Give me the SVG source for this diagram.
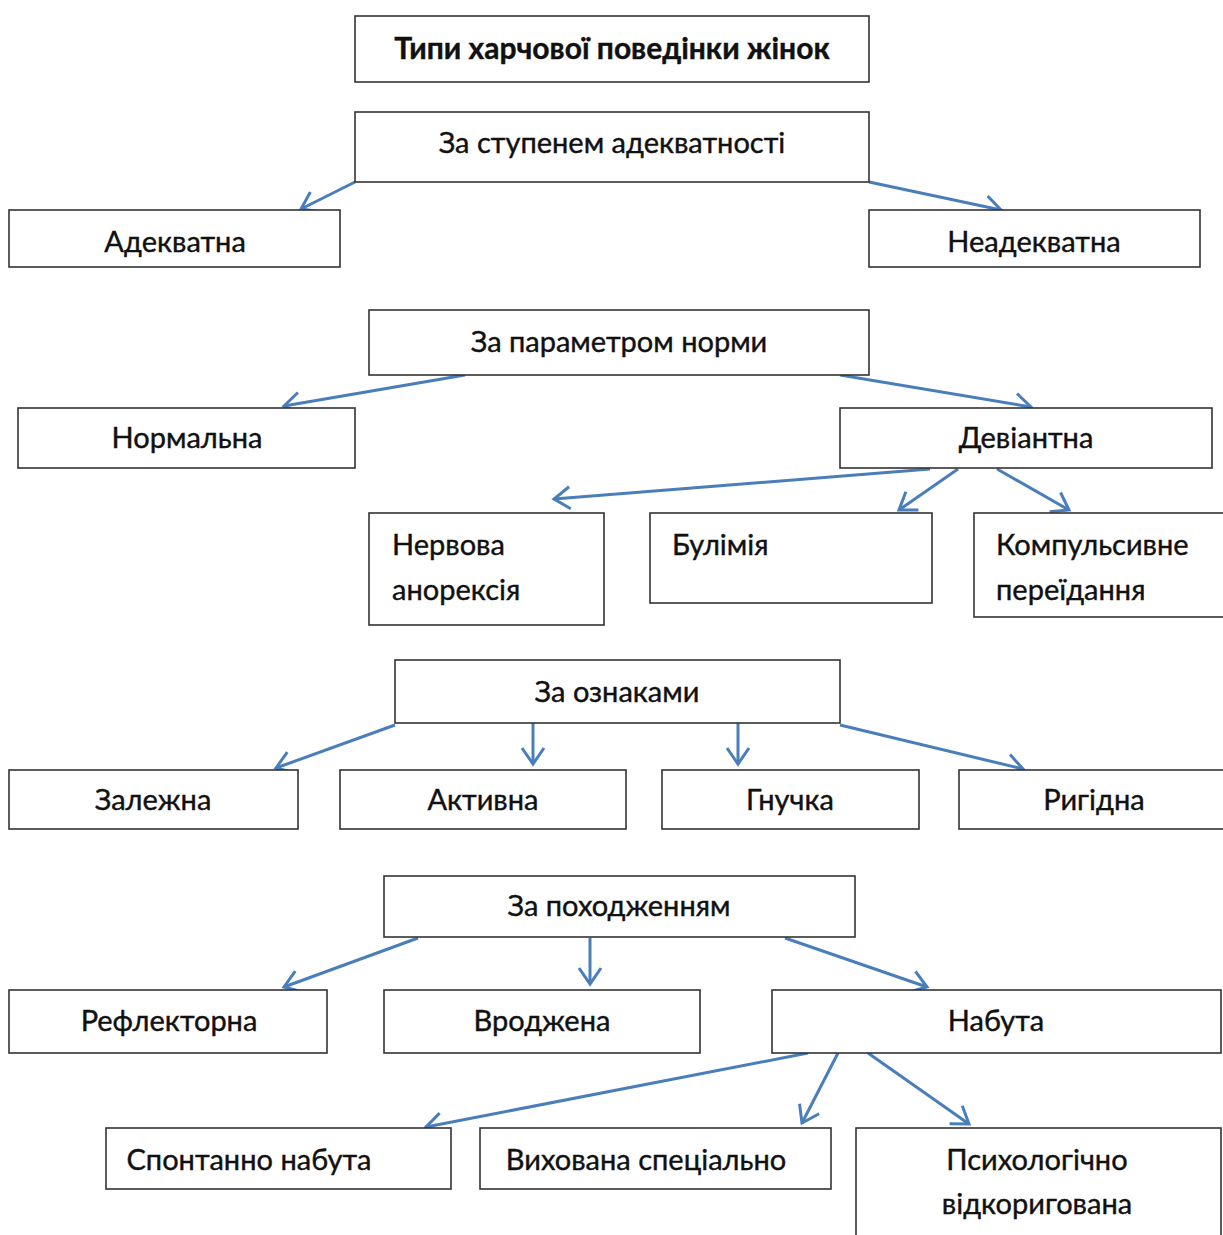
<svg xmlns="http://www.w3.org/2000/svg" width="1223" height="1235" viewBox="0 0 1223 1235">
<style>
.b{fill:#fff;stroke:#333;stroke-width:1.6}
.t{font-family:Lato,"Open Sans","Liberation Sans",sans-serif;font-size:29px;fill:#111;text-anchor:middle;stroke:#111;stroke-width:0.4}
.l{text-anchor:start}
.h{font-weight:bold;font-size:30px}
.c{fill:none;stroke:#4a7ebb;stroke-width:3;marker-end:url(#a)}
</style>
<defs>
<marker id="a" markerUnits="userSpaceOnUse" markerWidth="40" markerHeight="40" viewBox="-20 -20 40 40" refX="0" refY="0" orient="auto">
<path d="M-16,-11 L0,0 L-16,11" fill="none" stroke="#4a7ebb" stroke-width="3"/>
</marker>
</defs>
<rect width="1223" height="1235" fill="#fff"/>
<g id="connectors">
<line class="c" x1="355" y1="182" x2="301" y2="209"/>
<line class="c" x1="869" y1="182" x2="1001" y2="210"/>
<line class="c" x1="465" y1="375" x2="284" y2="406"/>
<line class="c" x1="840" y1="375" x2="1031" y2="407"/>
<line class="c" x1="930" y1="469" x2="554" y2="499"/>
<line class="c" x1="958" y1="469" x2="899" y2="510"/>
<line class="c" x1="997" y1="469" x2="1069" y2="510"/>
<line class="c" x1="395" y1="725" x2="276" y2="768"/>
<line class="c" x1="533" y1="723" x2="533" y2="764"/>
<line class="c" x1="738" y1="723" x2="738" y2="764"/>
<line class="c" x1="840" y1="725" x2="1023" y2="769"/>
<line class="c" x1="418" y1="938" x2="284" y2="987"/>
<line class="c" x1="590" y1="938" x2="590" y2="984"/>
<line class="c" x1="785" y1="938" x2="927" y2="987"/>
<line class="c" x1="808" y1="1053" x2="426" y2="1127"/>
<line class="c" x1="838" y1="1053" x2="802" y2="1123"/>
<line class="c" x1="868" y1="1053" x2="969" y2="1124"/>
</g>
<g id="n0"><rect class="b" x="355" y="16" width="514" height="66"/><text class="t h" x="612" y="59">Типи харчової поведінки жінок</text></g>
<g id="n1"><rect class="b" x="355" y="112" width="514" height="70"/><text class="t" x="612" y="153">За ступенем адекватності</text></g>
<g id="n2"><rect class="b" x="9" y="210" width="331" height="57"/><text class="t" x="175" y="252">Адекватна</text></g>
<g id="n3"><rect class="b" x="869" y="210" width="331" height="57"/><text class="t" x="1034" y="252">Неадекватна</text></g>
<g id="n4"><rect class="b" x="369" y="310" width="500" height="65"/><text class="t" x="619" y="352">За параметром норми</text></g>
<g id="n5"><rect class="b" x="18" y="408" width="337" height="60"/><text class="t" x="187" y="448">Нормальна</text></g>
<g id="n6"><rect class="b" x="840" y="408" width="372" height="60"/><text class="t" x="1026" y="448">Девіантна</text></g>
<g id="n7"><rect class="b" x="369" y="513" width="235" height="112"/><text class="t l" x="392" y="555">Нервова</text><text class="t l" x="392" y="600">анорексія</text></g>
<g id="n8"><rect class="b" x="650" y="513" width="282" height="90"/><text class="t l" x="672" y="555">Булімія</text></g>
<g id="n9"><rect class="b" x="974" y="513" width="260" height="104"/><text class="t l" x="996" y="555">Компульсивне</text><text class="t l" x="996" y="600">переїдання</text></g>
<g id="n10"><rect class="b" x="395" y="660" width="445" height="63"/><text class="t" x="617" y="702">За ознаками</text></g>
<g id="n11"><rect class="b" x="9" y="770" width="289" height="59"/><text class="t" x="153" y="810">Залежна</text></g>
<g id="n12"><rect class="b" x="340" y="770" width="286" height="59"/><text class="t" x="483" y="810">Активна</text></g>
<g id="n13"><rect class="b" x="662" y="770" width="257" height="59"/><text class="t" x="790" y="810">Гнучка</text></g>
<g id="n14"><rect class="b" x="959" y="770" width="275" height="59"/><text class="t" x="1094" y="810">Ригідна</text></g>
<g id="n15"><rect class="b" x="384" y="876" width="471" height="61"/><text class="t" x="619" y="916">За походженням</text></g>
<g id="n16"><rect class="b" x="9" y="990" width="318" height="63"/><text class="t" x="169" y="1031">Рефлекторна</text></g>
<g id="n17"><rect class="b" x="384" y="990" width="316" height="63"/><text class="t" x="542" y="1031">Вроджена</text></g>
<g id="n18"><rect class="b" x="772" y="990" width="449" height="63"/><text class="t" x="996" y="1031">Набута</text></g>
<g id="n19"><rect class="b" x="106" y="1128" width="345" height="61"/><text class="t" x="249" y="1170">Спонтанно набута</text></g>
<g id="n20"><rect class="b" x="480" y="1128" width="351" height="61"/><text class="t" x="646" y="1170">Вихована спеціально</text></g>
<g id="n21"><rect class="b" x="856" y="1128" width="365" height="120"/><text class="t" x="1037" y="1170">Психологічно</text><text class="t" x="1037" y="1214">відкоригована</text></g>
</svg>
